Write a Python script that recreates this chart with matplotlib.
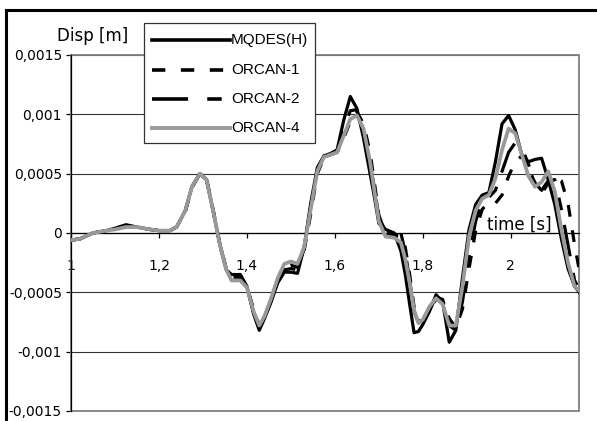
import matplotlib
matplotlib.use('Agg')
import matplotlib.pyplot as plt
from matplotlib.patches import Rectangle
from matplotlib.lines import Line2D

# ---------------- data ----------------
t = [1.00, 1.02, 1.05, 1.08, 1.10, 1.125, 1.15, 1.18, 1.20, 1.225,
     1.24, 1.26, 1.275, 1.293, 1.308, 1.323, 1.338, 1.353, 1.365, 1.385,
     1.40, 1.415, 1.428, 1.44, 1.455, 1.47, 1.485, 1.50, 1.515, 1.53,
     1.545, 1.56, 1.575, 1.59, 1.605, 1.62, 1.635, 1.65, 1.665, 1.68,
     1.69, 1.70, 1.715, 1.735, 1.75, 1.76, 1.77, 1.78, 1.79, 1.80,
     1.815, 1.83, 1.845, 1.86, 1.875, 1.89, 1.905, 1.92, 1.935, 1.95,
     1.965, 1.98, 1.995, 2.01, 2.025, 2.04, 2.055, 2.07, 2.085, 2.10,
     2.115, 2.13, 2.145, 2.16]

mqdes = [-0.00006, -0.00005, 0.0, 0.00002, 0.00004, 0.00007, 0.00005, 0.00003, 0.00002, 0.00002,
         0.00005, 0.00019, 0.00039, 0.0005, 0.00045, 0.00019, -0.00009, -0.00031, -0.00035, -0.00035,
         -0.00045, -0.00068, -0.00082, -0.00072, -0.00058, -0.00042, -0.00033, -0.00033, -0.00034, -0.00012,
         0.00025, 0.00055, 0.00065, 0.00067, 0.0007, 0.00095, 0.00115, 0.00105, 0.0008, 0.0005,
         0.0003, 0.00008, 0.00003, 0.0, -0.00015, -0.00035, -0.0006, -0.00084, -0.00083, -0.00077,
         -0.00066, -0.00052, -0.00058, -0.00092, -0.00082, -0.00038, 0.00003, 0.00024, 0.00032, 0.00034,
         0.0006, 0.00092, 0.00099, 0.00087, 0.00066, 0.0006, 0.00062, 0.00063, 0.00045, 0.00024,
         -0.00005, -0.0003, -0.00045, -0.00052]

orcan1 = [-0.00006, -0.00005, 0.0, 0.00002, 0.00003, 0.00006, 0.00005, 0.00003, 0.00002, 0.00002,
          0.00005, 0.00018, 0.00038, 0.0005, 0.00046, 0.0002, -0.00008, -0.0003, -0.00038, -0.00039,
          -0.00045, -0.00064, -0.00078, -0.00072, -0.00057, -0.0004, -0.00029, -0.00027, -0.00029, -0.00015,
          0.00016, 0.0005, 0.00063, 0.00066, 0.00068, 0.0008, 0.00094, 0.00102, 0.00092, 0.00068,
          0.00042, 0.00015, 0.0, -0.00002, -0.00002, -0.00012, -0.00035, -0.00062, -0.00074, -0.00074,
          -0.00064, -0.00056, -0.00058, -0.00072, -0.0008, -0.00064, -0.0003, 0.00002, 0.0002, 0.00026,
          0.00025, 0.00032, 0.00048, 0.0006, 0.00065, 0.00055, 0.00042, 0.00033, 0.00042, 0.00048,
          0.00044, 0.00025, -0.0001, -0.0004]

orcan2 = [-0.00006, -0.00005, 0.0, 0.00002, 0.00004, 0.00006, 0.00005, 0.00003, 0.00002, 0.00002,
          0.00005, 0.00019, 0.00039, 0.0005, 0.00045, 0.00019, -0.00009, -0.00031, -0.00036, -0.00037,
          -0.00045, -0.00067, -0.0008, -0.00071, -0.00057, -0.00041, -0.00031, -0.0003, -0.00031, -0.00013,
          0.00022, 0.00053, 0.00064, 0.00066, 0.00069, 0.00088, 0.00103, 0.00104, 0.00086, 0.00058,
          0.00038, 0.00013, 0.00002, 0.00001, 0.0, -0.00016, -0.0004, -0.00066, -0.00076, -0.00075,
          -0.00065, -0.00054, -0.00056, -0.00078, -0.00082, -0.00058, -0.0002, 0.0001, 0.00027, 0.0003,
          0.00036, 0.00052, 0.00068, 0.00076, 0.00072, 0.00058, 0.00042, 0.00036, 0.00044, 0.00045,
          0.0002, -0.0001, -0.0004, -0.0005]

orcan4 = [-0.00006, -0.00005, 0.0, 0.00002, 0.00003, 0.00005, 0.00005, 0.00003, 0.00002, 0.00002,
          0.00005, 0.00019, 0.00039, 0.0005, 0.00045, 0.00019, -0.00009, -0.00031, -0.0004, -0.0004,
          -0.00046, -0.00066, -0.00078, -0.0007, -0.00055, -0.00038, -0.00026, -0.00024, -0.00026, -0.00012,
          0.0002, 0.00052, 0.00064, 0.00066, 0.00068, 0.00082, 0.00096, 0.00099, 0.00088, 0.0006,
          0.00035, 0.0001, -0.00003, -0.00004, -0.00008, -0.00022, -0.00042, -0.00065, -0.00076, -0.00073,
          -0.00062, -0.00055, -0.0006, -0.00078, -0.00078, -0.00045, -0.00003, 0.00019, 0.00029, 0.00032,
          0.00046, 0.0007, 0.00088, 0.00084, 0.00066, 0.00048, 0.00039, 0.00043, 0.00052, 0.00035,
          0.00003, -0.00025, -0.00045, -0.0005]

series_names = ['MQDES(H)', 'ORCAN-1', 'ORCAN-2', 'ORCAN-4']
x_ticks = [1.0, 1.2, 1.4, 1.6, 1.8, 2.0]
x_labels = ['1', '1,2', '1,4', '1,6', '1,8', '2']
y_ticks = [-0.0015, -0.001, -0.0005, 0.0, 0.0005, 0.001, 0.0015]
y_labels = ['-0,0015', '-0,001', '-0,0005', '0', '0,0005', '0,001', '0,0015']
x_range = (1.0, 2.155)
y_range = (-0.0015, 0.0015)

# ---------------- figure ----------------
plt.rcParams['font.family'] = ['DejaVu Sans']
W, H = 597, 421
fig = plt.figure(figsize=(W / 100, H / 100), dpi=100)


def fx(px):
    return px / W


def fy(py):
    return 1 - py / H


L, R, T, B = 71, 579, 55, 411
ax = fig.add_axes([fx(L), fy(B), fx(R) - fx(L), fy(T) - fy(B)])
ax.set_xlim(*x_range)
ax.set_ylim(*y_range)

styles = [
    dict(color='black', lw=2.3, ls='-'),
    dict(color='black', lw=2.3, ls=(0, (3.7, 4.3))),
    dict(color='black', lw=2.3, ls=(0, (10, 5.3, 4, 4.7))),
    dict(color='#999999', lw=2.7, ls='-'),
]
for vals, st in zip([mqdes, orcan1, orcan2, orcan4], styles):
    ax.plot(t, vals, color=st['color'], lw=st['lw'], linestyle=st['ls'],
            solid_joinstyle='round', zorder=3)

# grid
ax.set_yticks(y_ticks)
ax.set_yticklabels(y_labels, fontsize=10)
ax.yaxis.grid(True, color='#333333', lw=0.8, zorder=1)
ax.set_axisbelow(True)

ax.set_xticks(x_ticks)
ax.set_xticklabels(x_labels, fontsize=11.5)

for s in ['top', 'right']:
    ax.spines[s].set_visible(False)
ax.spines['left'].set_color('black')
ax.spines['left'].set_linewidth(0.9)
ax.spines['bottom'].set_position(('data', 0))
ax.spines['bottom'].set_color('black')
ax.spines['bottom'].set_linewidth(0.9)
ax.spines['bottom'].set_zorder(2)

ax.tick_params(axis='y', direction='out', length=3.5, width=0.9, pad=3)
ax.tick_params(axis='x', direction='out', length=3.5, width=0.9, pad=15)

# plot-area grey border
ax.add_patch(Rectangle((0, 0), 1, 1, transform=ax.transAxes, fill=False,
                       edgecolor='#808080', lw=1.3, zorder=2, clip_on=False))

# axis titles
fig.text(fx(57), fy(36), 'Disp [m]', fontsize=12, ha='left', va='center')
fig.text(fx(487), fy(225), 'time [s]', fontsize=12, ha='left', va='center', zorder=5)

# legend (manual box)
lx0, ly0, lx1, ly1 = 144, 23, 315, 143
fig.add_artist(Rectangle((fx(lx0), fy(ly1)), fx(lx1) - fx(lx0), fy(ly0) - fy(ly1),
                         facecolor='white', edgecolor='#333333', lw=0.9,
                         transform=fig.transFigure, zorder=10))
rows = [40, 70, 99, 128]
for name, st, ry in zip(series_names, styles, rows):
    fig.add_artist(Line2D([fx(152), fx(230)], [fy(ry), fy(ry)], color=st['color'],
                          lw=2.6 if st['color'] == 'black' else 2.8, linestyle=st['ls'],
                          transform=fig.transFigure, zorder=11))
    fig.text(fx(231), fy(ry), name, fontsize=11, family=['Liberation Sans', 'DejaVu Sans'],
             ha='left', va='center', zorder=12)

# outer frame (left and top edges visible)
fig.add_artist(Line2D([fx(6), fx(6)], [fy(10), fy(H + 5)], color='black', lw=2.2,
                      transform=fig.transFigure, zorder=20))
fig.add_artist(Line2D([fx(6), fx(W + 5)], [fy(10), fy(10)], color='black', lw=2.2,
                      transform=fig.transFigure, zorder=20))

fig.savefig('out.png', dpi=100)
